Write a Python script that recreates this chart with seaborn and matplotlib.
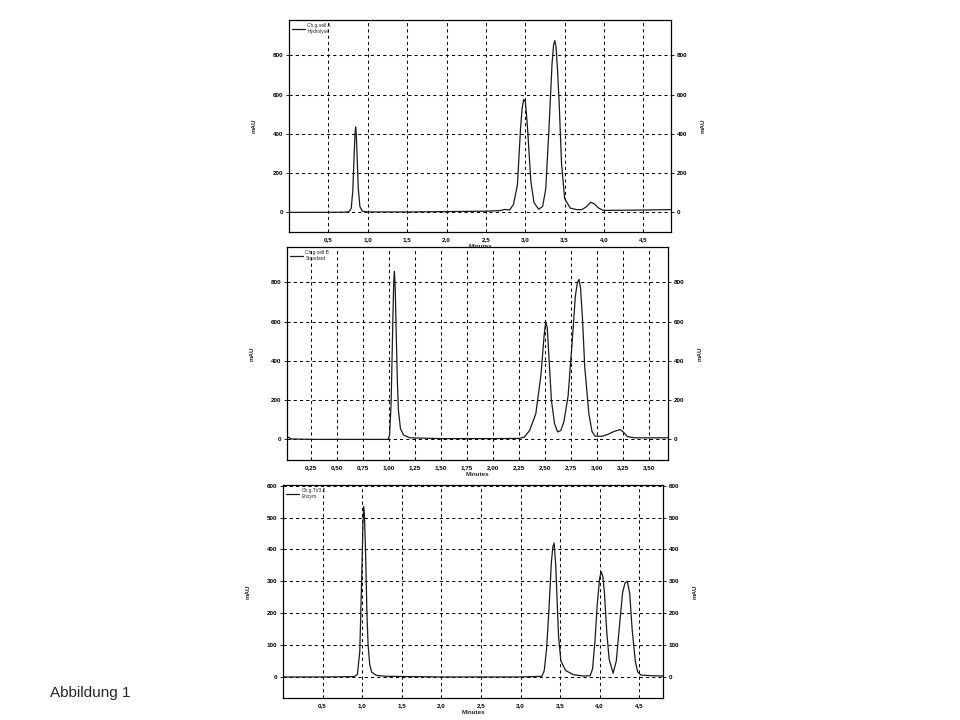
import matplotlib
matplotlib.use("Agg")
import matplotlib.pyplot as plt
import seaborn as sns

sns.set_style("white")
plt.rcParams["font.family"] = ["Liberation Sans", "DejaVu Sans"]

# ---------------- DATA ----------------
# panel A (top)
time_a = [0.00, 0.40, 0.70, 0.76, 0.79, 0.81, 0.825, 0.838, 0.846, 0.855, 0.865, 0.88, 0.90, 0.93,
          1.00, 1.50, 2.00, 2.50, 2.68, 2.74, 2.80, 2.85, 2.90, 2.94, 2.96, 2.98, 3.00, 3.015, 3.03,
          3.07, 3.11, 3.17, 3.22, 3.26, 3.30, 3.34, 3.36, 3.375, 3.39, 3.41, 3.43, 3.46, 3.50, 3.57,
          3.65, 3.72, 3.78, 3.83, 3.88, 3.93, 3.98, 4.00, 4.02, 4.50, 4.85]
mau_a = [0, 0, 1, 3, 20, 110, 270, 400, 435, 390, 280, 120, 30, 6,
         2, 2, 4, 6, 9, 15, 12, 40, 140, 430, 530, 575, 565, 500, 420,
         160, 50, 16, 30, 120, 420, 760, 855, 875, 845, 720, 560, 250, 70, 22,
         14, 14, 30, 52, 42, 22, 12, 10, 10, 12, 14]

# panel B (middle)
time_b = [0.02, 0.04, 0.06, 0.30, 0.60, 0.95, 0.99, 1.005, 1.02, 1.035, 1.045, 1.052, 1.06, 1.07,
          1.08, 1.09, 1.11, 1.14, 1.20, 1.50, 2.00, 2.25, 2.30, 2.35, 2.41, 2.46, 2.49, 2.505, 2.52,
          2.535, 2.56, 2.59, 2.62, 2.65, 2.68, 2.72, 2.76, 2.79, 2.81, 2.825, 2.84, 2.86, 2.88, 2.92,
          2.95, 2.98, 3.04, 3.10, 3.16, 3.22, 3.25, 3.29, 3.36, 3.50, 3.68]
mau_b = [12, 10, 2, 0, 0, 0, 0, 20, 180, 560, 800, 855, 760, 520,
         300, 150, 55, 22, 8, 4, 4, 5, 12, 45, 130, 330, 530, 598, 570,
         430, 200, 80, 38, 45, 90, 220, 500, 730, 800, 815, 770, 600, 370, 130,
         40, 17, 15, 25, 40, 50, 38, 14, 8, 8, 8]

# panel C (bottom)
time_c = [0.00, 0.50, 0.90, 0.94, 0.97, 0.995, 1.01, 1.02, 1.03, 1.045, 1.06, 1.075, 1.095, 1.12,
          1.18, 1.30, 2.00, 3.00, 3.27, 3.30, 3.33, 3.36, 3.39, 3.41, 3.425, 3.445, 3.48, 3.51, 3.57,
          3.67, 3.80, 3.88, 3.91, 3.94, 3.97, 4.00, 4.02, 4.04, 4.06, 4.09, 4.12, 4.17, 4.21, 4.25,
          4.29, 4.32, 4.35, 4.38, 4.41, 4.45, 4.48, 4.52, 4.65, 4.80]
mau_c = [0, 0, 1, 8, 80, 320, 480, 535, 500, 370, 200, 100, 40, 15,
         5, 2, 0, 0, 2, 20, 90, 215, 360, 410, 420, 350, 130, 50, 20,
         7, 3, 4, 25, 110, 230, 310, 330, 315, 265, 140, 55, 12, 50, 160,
         265, 295, 300, 260, 150, 50, 16, 6, 4, 3]

ticks_a = [0.5, 1.0, 1.5, 2.0, 2.5, 3.0, 3.5, 4.0, 4.5]
ticks_b = [0.25, 0.50, 0.75, 1.00, 1.25, 1.50, 1.75, 2.00, 2.25, 2.50, 2.75, 3.00, 3.25, 3.50]
ticks_c = [0.5, 1.0, 1.5, 2.0, 2.5, 3.0, 3.5, 4.0, 4.5]
yticks_ab = [0, 200, 400, 600, 800]
yticks_c = [0, 100, 200, 300, 400, 500, 600]

legend_a = "Ch.g.sell A\nHydrolyse"
legend_b = "Ch.g.sell B\nStandard"
legend_c = "Ch.g.Tr/3.2\nEnzym."

panels = [
    # time, values, xticks, decimals, yticks, xlim, ylim, legend, rect
    (time_a, mau_a, ticks_a, 1, yticks_ab, (0.0, 4.85), (-100, 980), legend_a,
     [289 / 960, 1 - 232 / 720, 382 / 960, 212 / 720]),
    (time_b, mau_b, ticks_b, 2, yticks_ab, (0.02, 3.68), (-105, 980), legend_b,
     [287 / 960, 1 - 460 / 720, 381 / 960, 213 / 720]),
    (time_c, mau_c, ticks_c, 1, yticks_c, (0.0, 4.8), (-66, 602), legend_c,
     [283 / 960, 1 - 698 / 720, 380 / 960, 213 / 720]),
]

fig = plt.figure(figsize=(9.6, 7.2), dpi=100)

for t, v, xt, dec, yt, xl, yl, leg, rect in panels:
    ax = fig.add_axes(rect)
    sns.lineplot(x=t, y=v, ax=ax, color="#1a1a1a", linewidth=0.9, label=leg)
    ax.set_xlim(*xl)
    ax.set_ylim(*yl)
    ax.set_xticks(xt)
    ax.set_xticklabels([f"{x:.{dec}f}".replace(".", ",") for x in xt], fontsize=4.5, fontweight="bold")
    ax.set_yticks(yt)
    ax.set_yticklabels([str(y) for y in yt], fontsize=4.5, fontweight="bold")
    ax.grid(True, color="black", linestyle=(0, (3, 3)), linewidth=0.75)
    for s in ax.spines.values():
        s.set_color("black")
        s.set_linewidth(0.9)
    ax.tick_params(axis="both", length=2, width=0.6, pad=2, colors="black")
    ax.set_xlabel("Minutes", fontsize=4.5, fontweight="bold", labelpad=1)
    ax.set_ylabel("mAU", fontsize=4.5, fontweight="bold", labelpad=12)
    ax.legend(loc="upper left", fontsize=3.5, frameon=False, handlelength=2.5,
              borderaxespad=0.3, handletextpad=0.6)

    ax2 = ax.twinx()
    ax2.set_ylim(*yl)
    ax2.set_yticks(yt)
    ax2.set_yticklabels([str(y) for y in yt], fontsize=4.5, fontweight="bold")
    ax2.tick_params(axis="y", length=2, width=0.6, pad=2, colors="black")
    ax2.set_ylabel("mAU", fontsize=4.5, fontweight="bold", labelpad=10)
    for s in ax2.spines.values():
        s.set_visible(False)

fig.text(50 / 960, 1 - 693 / 720, "Abbildung 1", fontsize=11, va="center", ha="left")

plt.savefig("out.png", dpi=100)
